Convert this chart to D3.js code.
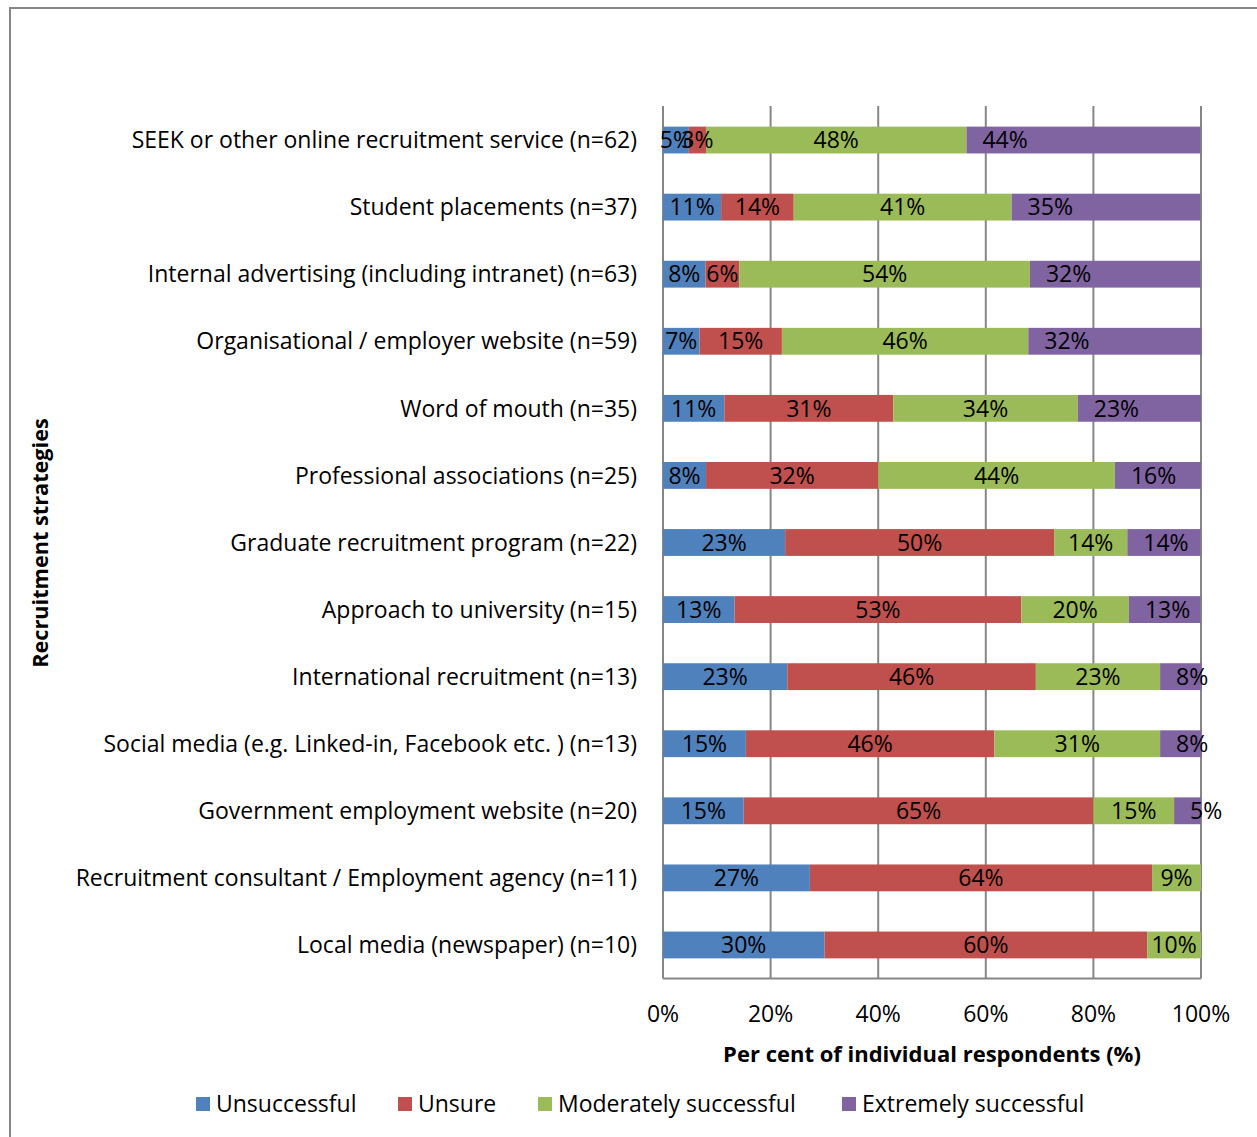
<!DOCTYPE html>
<html><head><meta charset="utf-8">
<script src="https://cdn.jsdelivr.net/npm/d3@7"></script>
<style>body{margin:0;background:#fff}svg{display:block}text{font-family:"Open Sans",sans-serif}</style>
</head><body>
<script>
const categories = [
  "SEEK or other online recruitment service (n=62)",
  "Student placements (n=37)",
  "Internal advertising (including intranet) (n=63)",
  "Organisational / employer website (n=59)",
  "Word of mouth (n=35)",
  "Professional associations (n=25)",
  "Graduate recruitment program (n=22)",
  "Approach to university (n=15)",
  "International recruitment (n=13)",
  "Social media (e.g. Linked-in, Facebook etc. ) (n=13)",
  "Government employment website (n=20)",
  "Recruitment consultant / Employment agency (n=11)",
  "Local media (newspaper) (n=10)"
];
const seriesNames = ["Unsuccessful","Unsure","Moderately successful","Extremely successful"];
const colors = ["#4F81BD","#C0504D","#9BBB59","#8064A2"];
const unsuccessful = [4.8,10.8,7.9,6.8,11.4,8,22.7,13.3,23.1,15.4,15,27.3,30];
const unsure       = [3.2,13.5,6.3,15.3,31.4,32,50,53.3,46.2,46.2,65,63.6,60];
const moderately   = [48.4,40.5,54.0,45.8,34.3,44,13.6,20,23.1,30.8,15,9.1,10];
const extremely    = [43.5,35.1,31.7,32.2,22.9,16,13.6,13.3,7.7,7.7,5,0,0];
const xTicks = [0,20,40,60,80,100];

const W=1257,H=1137;
const FS=23;
const svg=d3.select("body").append("svg").attr("width",W).attr("height",H);
svg.append("rect").attr("x",10).attr("y",8).attr("width",W+20).attr("height",H+20)
  .attr("fill","#fff").attr("stroke","#868686").attr("stroke-width",2);

const x=d3.scaleLinear().domain([0,100]).range([663,1201]);
const y=d3.scaleBand().domain(categories).range([106.5,978.5]).paddingInner(0.6).paddingOuter(0.3);

svg.append("g").selectAll("line").data(xTicks).join("line")
  .attr("x1",d=>x(d)).attr("x2",d=>x(d)).attr("y1",106).attr("y2",978.5)
  .attr("stroke","#868686").attr("stroke-width",2);
svg.append("line").attr("x1",x(0)).attr("x2",x(100)).attr("y1",978.5).attr("y2",978.5)
  .attr("stroke","#868686").attr("stroke-width",2);

const table=categories.map((c,i)=>({cat:c,v:[unsuccessful[i],unsure[i],moderately[i],extremely[i]]}));
const segs=[];
table.forEach(r=>{let acc=0;r.v.forEach((v,j)=>{segs.push({cat:r.cat,s:j,x0:acc,x1:acc+v,v});acc+=v;});});
const vis=segs.filter(d=>d.v>0);
const g=svg.append("g");
g.selectAll("rect").data(vis).join("rect")
  .attr("x",d=>x(d.x0)).attr("width",d=>x(d.x1)-x(d.x0))
  .attr("y",d=>y(d.cat)).attr("height",y.bandwidth())
  .attr("fill",d=>colors[d.s]);
g.selectAll("text").data(vis).join("text")
  .attr("x",d=>d.s===3 ? x(d.x0)+16 : x((d.x0+d.x1)/2))
  .attr("y",d=>y(d.cat)+y.bandwidth()/2+2)
  .attr("text-anchor",d=>d.s===3?"start":"middle").attr("dominant-baseline","middle")
  .attr("font-size",FS).attr("fill","#000").text(d=>Math.round(d.v)+"%");

svg.append("g").selectAll("text").data(categories).join("text")
  .attr("x",637).attr("y",d=>y(d)+y.bandwidth()/2+2)
  .attr("text-anchor","end").attr("dominant-baseline","middle")
  .attr("font-size",FS).attr("fill","#000").text(d=>d);

svg.append("g").selectAll("text").data(xTicks).join("text")
  .attr("x",d=>x(d)).attr("y",1016).attr("text-anchor","middle").attr("dominant-baseline","middle")
  .attr("font-size",FS).attr("fill","#000").text(d=>d+"%");

svg.append("text").attr("x",932).attr("y",1056).attr("text-anchor","middle").attr("dominant-baseline","middle")
  .attr("font-size",22).attr("font-weight","bold").text("Per cent of individual respondents (%)");
svg.append("text").attr("transform","translate(42,543) rotate(-90)").attr("text-anchor","middle")
  .attr("dominant-baseline","middle").attr("font-size",21.7).attr("font-weight","bold").text("Recruitment strategies");

const legX=[196,398,538,842];
const lg=svg.append("g").selectAll("g").data(seriesNames).join("g")
  .attr("transform",(d,i)=>`translate(${legX[i]},1104)`);
lg.append("rect").attr("x",0).attr("y",-7).attr("width",14).attr("height",14).attr("fill",(d,i)=>colors[i]);
lg.append("text").attr("x",20).attr("y",2).attr("dominant-baseline","middle").attr("font-size",FS).text(d=>d);
</script>
</body></html>
